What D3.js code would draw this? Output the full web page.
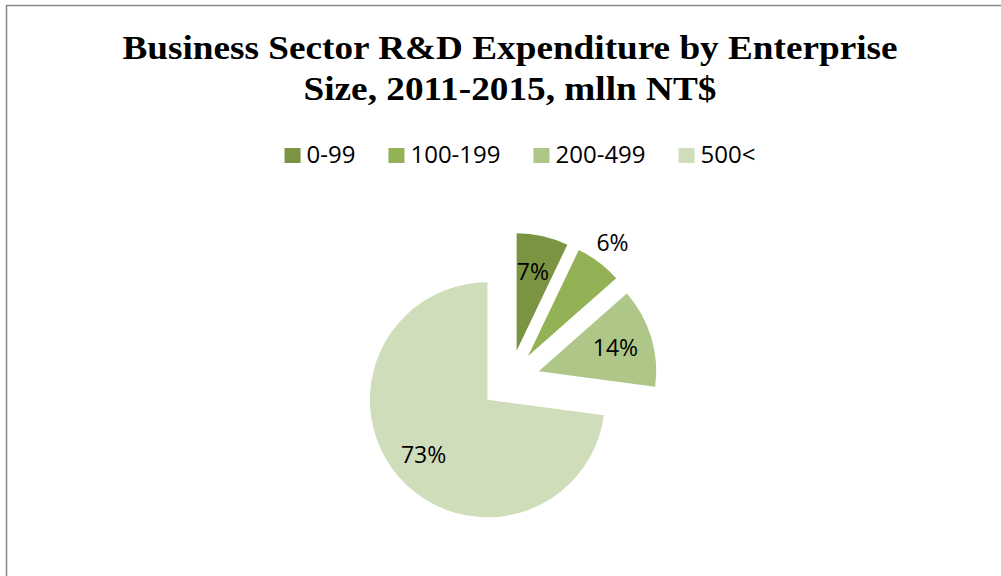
<!DOCTYPE html>
<html>
<head>
<meta charset="utf-8">
<script src="https://cdn.jsdelivr.net/npm/d3@7"></script>
<style>
  html, body { margin: 0; padding: 0; background: #fff; }
  svg { display: block; }
</style>
</head>
<body>
<svg id="chart" width="1001" height="576"></svg>
<script>
// Share of business-sector R&D spending by enterprise size (employees), 2011-2015
const categories = ["0-99", "100-199", "200-499", "500<"];
const shares = [7.1, 6.4, 13.6, 72.9];
const colors = ["#7A9442", "#93B155", "#AEC687", "#CFDDBB"];
const titleLines = ["Business Sector R&D Expenditure by Enterprise", "Size, 2011-2015, mlln NT$"];

const svg = d3.select("#chart");

// chart area frame
svg.append("rect")
  .attr("x", 6.5).attr("y", 5.5)
  .attr("width", 1100).attr("height", 700)
  .attr("fill", "#fff")
  .attr("stroke", "#878787")
  .attr("stroke-width", 1.5);

// title, wide bold serif
const titleWidths = [775, 413];
const title = svg.append("text")
  .attr("text-anchor", "middle")
  .attr("font-family", "'Liberation Serif', 'Times New Roman', serif")
  .attr("font-weight", "bold")
  .attr("font-size", 33)
  .attr("fill", "#000");
titleLines.forEach((line, i) => {
  title.append("tspan")
    .attr("x", 510)
    .attr("y", 59 + i * 41)
    .attr("textLength", titleWidths[i])
    .attr("lengthAdjust", "spacingAndGlyphs")
    .text(line);
});

// legend
const labelFont = "'Open Sans', 'Noto Sans', sans-serif";
const legend = svg.append("g");
const items = legend.selectAll("g.item")
  .data(categories)
  .join("g")
  .attr("class", "item");
items.append("rect")
  .attr("width", 16).attr("height", 15)
  .attr("y", 148)
  .attr("fill", (d, i) => colors[i]);
items.append("text")
  .attr("x", 22).attr("y", 163)
  .attr("font-family", labelFont)
  .attr("font-size", 24)
  .attr("fill", "#000")
  .text(d => d);
let lx = 0;
items.each(function () {
  const w = 22 + this.querySelector("text").getComputedTextLength();
  d3.select(this).attr("transform", `translate(${lx},0)`);
  lx += w + 33;
});
const legendWidth = lx - 33;
legend.attr("transform", `translate(${520 - legendWidth / 2},0)`);

// exploded pie
const cx = 510, cy = 380, radius = 117.5, explode = 30;
const pie = d3.pie().sort(null).value(d => d)(shares);
const total = d3.sum(shares);
const arc = d3.arc().innerRadius(0).outerRadius(radius);
const mid = d => (d.startAngle + d.endAngle) / 2;

const slices = svg.append("g").attr("transform", `translate(${cx},${cy})`);
const sliceG = slices.selectAll("g.slice")
  .data(pie)
  .join("g")
  .attr("class", "slice")
  .attr("transform", d => `translate(${Math.sin(mid(d)) * explode},${-Math.cos(mid(d)) * explode})`);

sliceG.append("path")
  .attr("d", arc)
  .attr("fill", (d, i) => colors[i]);

// percentage labels: inside the slice, except the narrow 100-199 wedge which sits outside
const outside = new Set(["100-199"]);
sliceG.append("text")
  .attr("text-anchor", "middle")
  .attr("dominant-baseline", "central")
  .attr("font-family", labelFont)
  .attr("font-size", 23)
  .attr("fill", "#000")
  .attr("transform", (d, i) => {
    const r = outside.has(categories[i]) ? radius * 1.22 : radius * 0.7;
    const a = mid(d);
    return `translate(${Math.sin(a) * r - 2},${-Math.cos(a) * r})`;
  })
  .text(d => Math.round(d.value / total * 100) + "%");
</script>
</body>
</html>
